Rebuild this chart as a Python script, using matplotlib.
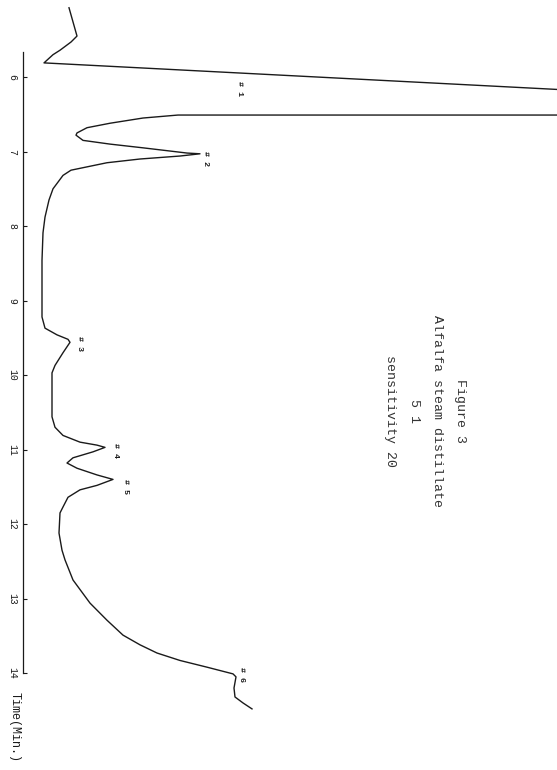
import matplotlib
matplotlib.use("Agg")
import matplotlib.pyplot as plt

# chromatogram trace: retention time (min) vs detector response
time_min = [5.07, 5.45, 5.53, 5.64, 5.70, 5.81, 6.21, 6.51, 6.51, 6.55, 6.62, 6.68,
            6.75, 6.78, 6.85, 6.90, 6.95, 7.02, 7.03, 7.06, 7.10, 7.15, 7.25, 7.32,
            7.50, 7.65, 7.88, 8.09, 8.46, 9.22, 9.37, 9.46, 9.52, 9.56, 9.70, 9.87,
            9.97, 10.56, 10.70, 10.81, 10.90, 10.94, 10.97, 11.03, 11.11, 11.18, 11.25,
            11.34, 11.40, 11.48, 11.54, 11.64, 11.77, 11.85, 12.12, 12.35, 12.48, 12.75,
            13.06, 13.29, 13.49, 13.62, 13.73, 13.83, 13.92, 14.01, 14.05, 14.20, 14.32,
            14.40, 14.48]
response = [9.2, 10.8, 9.6, 7.4, 6.0, 4.2, 119.4, 119.4, 31.0, 24.0, 17.4, 12.8,
            10.8, 10.6, 12.0, 17.4, 24.0, 32.8, 35.4, 31.4, 23.4, 16.8, 9.6, 8.0,
            6.0, 5.2, 4.4, 4.0, 3.8, 3.8, 4.4, 6.8, 9.0, 9.4, 8.0, 6.4,
            5.8, 5.8, 6.4, 8.0, 11.4, 14.8, 16.4, 14.0, 10.0, 8.8, 10.8,
            14.8, 18.0, 14.8, 11.4, 9.0, 8.0, 7.4, 7.2, 7.8, 8.4, 10.0,
            13.4, 16.8, 20.0, 23.4, 26.8, 31.4, 36.8, 42.0, 42.6, 42.2, 42.4,
            44.0, 45.8]

# peak labels
peak_names = ["# 1", "# 2", "# 3", "# 4", "# 5", "# 6"]
peak_time = [6.16, 7.09, 9.58, 11.01, 11.50, 14.02]
peak_resp = [43.2, 36.4, 11.4, 18.6, 20.4, 43.8]

time_ticks = [6, 7, 8, 9, 10, 11, 12, 13, 14]

caption = ["Figure 3", "Alfalfa steam distillate", "5 1", "sensitivity 20"]

plt.rcParams['font.family'] = ['Liberation Mono', 'DejaVu Sans Mono']
ink = "#1a1a1a"

fig = plt.figure(figsize=(5.57, 7.7), dpi=100)
ax = fig.add_axes([0, 0, 1, 1])

ax.plot(response, time_min, color=ink, lw=1.0, solid_joinstyle='round')

ax.set_xlim(-4.6, 106.8)
ax.set_ylim(15.30, 4.966)

# time axis only, drawn along the left edge, chart turned on its side
for side in ["top", "right", "bottom"]:
    ax.spines[side].set_visible(False)
ax.spines["left"].set_position(("data", 0))
ax.spines["left"].set_bounds(5.66, 14)
ax.spines["left"].set_linewidth(0.9)
ax.spines["left"].set_color(ink)
ax.set_xticks([])
ax.set_yticks(time_ticks)
ax.set_yticklabels([str(t) for t in time_ticks])
ax.tick_params(axis="y", direction="in", length=3, width=0.8, color=ink,
               labelsize=7, labelrotation=-90, pad=4, labelcolor=ink)
for lab in ax.get_yticklabels():
    lab.set_verticalalignment("center")

ax.text(-1.6, 14.72, "Time(Min.)", rotation=-90, ha="center", va="center",
        fontsize=8.5, color=ink)

for name, t, r in zip(peak_names, peak_time, peak_resp):
    ax.text(r, t, name, rotation=-90, ha="center", va="center", fontsize=6,
            color=ink, fontweight="bold")

for i, line in enumerate(caption):
    ax.text(87.4 - 4.65 * i, 10.48, line, rotation=-90, ha="center", va="center",
            fontsize=9.5, color="#333333")

fig.savefig("out.png", dpi=100, facecolor="white")
